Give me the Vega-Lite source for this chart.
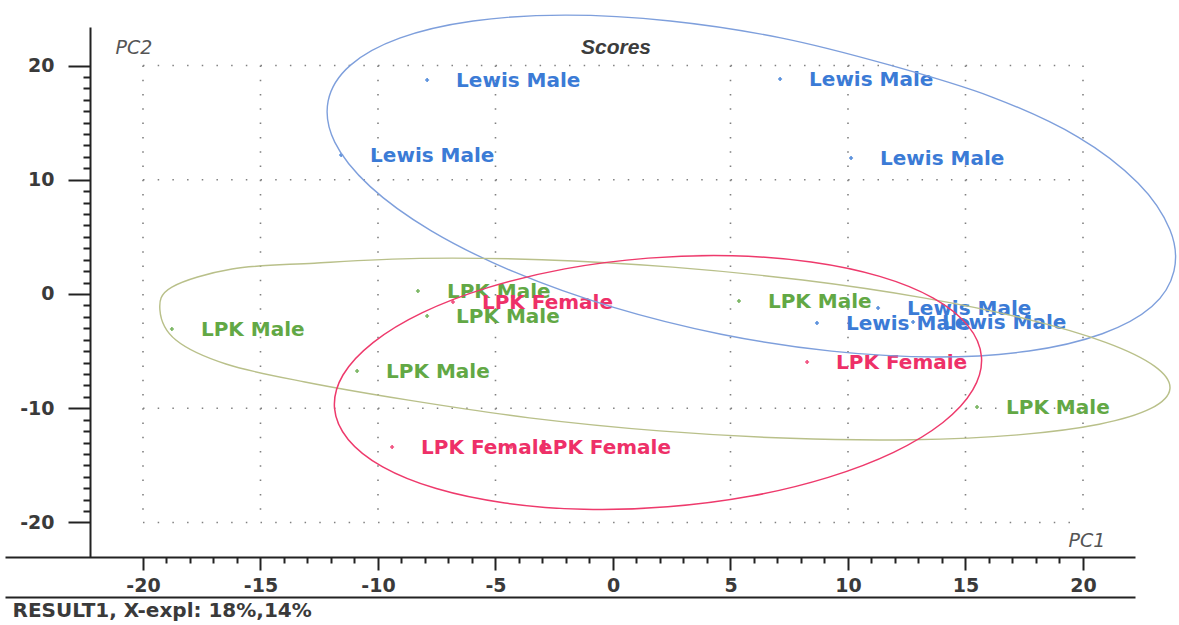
{
  "$schema": "https://vega.github.io/schema/vega-lite/v6.json",
  "width": 1130,
  "height": 530,
  "autosize": {"type": "none"},
  "padding": {"left": 5, "top": 27, "right": 44, "bottom": 68},
  "background": "white",
  "config": {"view": {"stroke": null}, "font": "DejaVu Sans"},
  "title": {
    "text": "Scores",
    "font": "Liberation Sans",
    "fontSize": 21,
    "fontWeight": "bold",
    "fontStyle": "italic",
    "color": "#3c3c3c",
    "anchor": "middle",
    "frame": "group",
    "orient": "top",
    "baseline": "alphabetic",
    "offset": -27,
    "dx": 46,
    "dy": 36
  },
  "datasets": {
    "gridX": [{"x": -20}, {"x": -15}, {"x": -10}, {"x": -5}, {"x": 5}, {"x": 10}, {"x": 15}, {"x": 20}],
    "gridY": [{"y": -20}, {"y": -10}, {"y": 10}, {"y": 20}],
    "scores": [
      {"grp": "Lewis Male", "x": -7.91, "y": 18.73},
      {"grp": "Lewis Male", "x": 7.11, "y": 18.82},
      {"grp": "Lewis Male", "x": -11.57, "y": 12.17},
      {"grp": "Lewis Male", "x": 10.13, "y": 11.9},
      {"grp": "Lewis Male", "x": 11.28, "y": -1.23},
      {"grp": "Lewis Male", "x": 8.68, "y": -2.54},
      {"grp": "Lewis Male", "x": 12.77, "y": -2.45},
      {"grp": "LPK Male", "x": -8.3, "y": 0.26},
      {"grp": "LPK Male", "x": -7.91, "y": -1.93},
      {"grp": "LPK Male", "x": -18.77, "y": -3.06},
      {"grp": "LPK Male", "x": -10.89, "y": -6.74},
      {"grp": "LPK Male", "x": 5.36, "y": -0.61},
      {"grp": "LPK Male", "x": 15.49, "y": -9.89},
      {"grp": "LPK Female", "x": -6.81, "y": -0.7},
      {"grp": "LPK Female", "x": 8.26, "y": -5.95},
      {"grp": "LPK Female", "x": -9.4, "y": -13.39},
      {"grp": "LPK Female", "x": -4.34, "y": -13.39}
    ],
    "ellipses": [
      {"grp": "Lewis Male", "ord": 1, "x": 23.87, "y": 2.0},
      {"grp": "Lewis Male", "ord": 2, "x": 22.93, "y": -1.1},
      {"grp": "Lewis Male", "ord": 3, "x": 20.82, "y": -3.48},
      {"grp": "Lewis Male", "ord": 4, "x": 17.7, "y": -4.99},
      {"grp": "Lewis Male", "ord": 5, "x": 13.77, "y": -5.51},
      {"grp": "Lewis Male", "ord": 6, "x": 9.3, "y": -5.0},
      {"grp": "Lewis Male", "ord": 7, "x": 4.6, "y": -3.52},
      {"grp": "Lewis Male", "ord": 8, "x": -0.01, "y": -1.15},
      {"grp": "Lewis Male", "ord": 9, "x": -4.23, "y": 1.95},
      {"grp": "Lewis Male", "ord": 10, "x": -7.75, "y": 5.55},
      {"grp": "Lewis Male", "ord": 11, "x": -10.34, "y": 9.42},
      {"grp": "Lewis Male", "ord": 12, "x": -11.84, "y": 13.29},
      {"grp": "Lewis Male", "ord": 13, "x": -12.12, "y": 16.9},
      {"grp": "Lewis Male", "ord": 14, "x": -11.18, "y": 20.01},
      {"grp": "Lewis Male", "ord": 15, "x": -9.08, "y": 22.39},
      {"grp": "Lewis Male", "ord": 16, "x": -5.95, "y": 23.89},
      {"grp": "Lewis Male", "ord": 17, "x": -2.03, "y": 24.41},
      {"grp": "Lewis Male", "ord": 18, "x": 2.44, "y": 23.9},
      {"grp": "Lewis Male", "ord": 19, "x": 7.14, "y": 22.42},
      {"grp": "Lewis Male", "ord": 20, "x": 11.75, "y": 20.05},
      {"grp": "Lewis Male", "ord": 21, "x": 16.13, "y": 17.24},
      {"grp": "Lewis Male", "ord": 22, "x": 19.79, "y": 13.74},
      {"grp": "Lewis Male", "ord": 23, "x": 22.34, "y": 9.72},
      {"grp": "Lewis Male", "ord": 24, "x": 23.7, "y": 5.62},
      {"grp": "LPK Male", "ord": 1, "x": 23.7, "y": -8.28},
      {"grp": "LPK Male", "ord": 2, "x": 22.89, "y": -10.02},
      {"grp": "LPK Male", "ord": 3, "x": 20.69, "y": -11.4},
      {"grp": "LPK Male", "ord": 4, "x": 17.23, "y": -12.33},
      {"grp": "LPK Male", "ord": 5, "x": 12.74, "y": -12.75},
      {"grp": "LPK Male", "ord": 6, "x": 7.54, "y": -12.63},
      {"grp": "LPK Male", "ord": 7, "x": 1.98, "y": -11.98},
      {"grp": "LPK Male", "ord": 8, "x": -3.56, "y": -10.84},
      {"grp": "LPK Male", "ord": 9, "x": -8.7, "y": -9.29},
      {"grp": "LPK Male", "ord": 10, "x": -13.11, "y": -7.7},
      {"grp": "LPK Male", "ord": 11, "x": -16.47, "y": -6.13},
      {"grp": "LPK Male", "ord": 12, "x": -18.6, "y": -4.03},
      {"grp": "LPK Male", "ord": 13, "x": -19.28, "y": -1.4},
      {"grp": "LPK Male", "ord": 14, "x": -18.77, "y": 0.61},
      {"grp": "LPK Male", "ord": 15, "x": -16.21, "y": 2.19},
      {"grp": "LPK Male", "ord": 16, "x": -12.71, "y": 2.7},
      {"grp": "LPK Male", "ord": 17, "x": -8.23, "y": 3.12},
      {"grp": "LPK Male", "ord": 18, "x": -3.03, "y": 3.0},
      {"grp": "LPK Male", "ord": 19, "x": 2.53, "y": 2.35},
      {"grp": "LPK Male", "ord": 20, "x": 8.07, "y": 1.22},
      {"grp": "LPK Male", "ord": 21, "x": 13.21, "y": -0.34},
      {"grp": "LPK Male", "ord": 22, "x": 17.61, "y": -2.2},
      {"grp": "LPK Male", "ord": 23, "x": 20.96, "y": -4.23},
      {"grp": "LPK Male", "ord": 24, "x": 23.04, "y": -6.31},
      {"grp": "LPK Female", "ord": 1, "x": 15.68, "y": -5.51},
      {"grp": "LPK Female", "ord": 2, "x": 15.31, "y": -8.4},
      {"grp": "LPK Female", "ord": 3, "x": 14.04, "y": -11.25},
      {"grp": "LPK Female", "ord": 4, "x": 11.94, "y": -13.86},
      {"grp": "LPK Female", "ord": 5, "x": 9.16, "y": -16.05},
      {"grp": "LPK Female", "ord": 6, "x": 5.88, "y": -17.69},
      {"grp": "LPK Female", "ord": 7, "x": 2.33, "y": -18.63},
      {"grp": "LPK Female", "ord": 8, "x": -1.24, "y": -18.84},
      {"grp": "LPK Female", "ord": 9, "x": -4.6, "y": -18.29},
      {"grp": "LPK Female", "ord": 10, "x": -7.52, "y": -17.03},
      {"grp": "LPK Female", "ord": 11, "x": -9.8, "y": -15.13},
      {"grp": "LPK Female", "ord": 12, "x": -11.27, "y": -12.73},
      {"grp": "LPK Female", "ord": 13, "x": -11.85, "y": -9.99},
      {"grp": "LPK Female", "ord": 14, "x": -11.49, "y": -7.09},
      {"grp": "LPK Female", "ord": 15, "x": -10.21, "y": -4.25},
      {"grp": "LPK Female", "ord": 16, "x": -8.11, "y": -1.63},
      {"grp": "LPK Female", "ord": 17, "x": -5.33, "y": 0.56},
      {"grp": "LPK Female", "ord": 18, "x": -2.05, "y": 2.2},
      {"grp": "LPK Female", "ord": 19, "x": 1.5, "y": 3.14},
      {"grp": "LPK Female", "ord": 20, "x": 5.07, "y": 3.35},
      {"grp": "LPK Female", "ord": 21, "x": 8.43, "y": 2.8},
      {"grp": "LPK Female", "ord": 22, "x": 11.35, "y": 1.54},
      {"grp": "LPK Female", "ord": 23, "x": 13.63, "y": -0.36},
      {"grp": "LPK Female", "ord": 24, "x": 15.1, "y": -2.77}
    ]
  },
  "layer": [
    {
      "layer": [
        {
          "data": {"name": "scores"},
          "mark": {"type": "point", "opacity": 0},
          "encoding": {
            "x": {
              "field": "x", "type": "quantitative",
              "scale": {"domain": [-25.872, 22.213], "nice": false, "zero": false},
              "axis": {
                "values": [-20, -15, -10, -5, 0, 5, 10, 15, 20],
                "labelExpr": "'' + datum.value",
                "tickSize": 13,
                "tickWidth": 2,
                "tickColor": "#222222",
                "domainColor": "#222222",
                "domainWidth": 2,
                "grid": false,
                "labelFont": "DejaVu Sans",
                "labelFontSize": 19,
                "labelFontWeight": "bold",
                "labelColor": "#3a3a3a",
                "labelPadding": 6,
                "labelFlush": false,
                "title": "PC1",
                "titleFont": "DejaVu Sans",
                "titleFontSize": 19,
                "titleFontStyle": "italic",
                "titleFontWeight": "normal",
                "titleColor": "#555555",
                "titleX": 1063,
                "titleY": -17,
                "titleAlign": "left",
                "titleBaseline": "middle"
              }
            },
            "y": {
              "field": "y", "type": "quantitative",
              "scale": {"domain": [-23.02, 23.37], "nice": false, "zero": false},
              "axis": {
                "values": [-20, -10, 0, 10, 20],
                "labelExpr": "'' + datum.value",
                "tickSize": 22,
                "tickWidth": 2,
                "tickColor": "#222222",
                "domainColor": "#222222",
                "domainWidth": 2,
                "offset": -85,
                "grid": false,
                "labelFont": "DejaVu Sans",
                "labelFontSize": 19,
                "labelFontWeight": "bold",
                "labelColor": "#3a3a3a",
                "labelPadding": 14,
                "labelFlush": false,
                "title": "PC2",
                "titleFont": "DejaVu Sans",
                "titleFontSize": 19,
                "titleFontStyle": "italic",
                "titleFontWeight": "normal",
                "titleColor": "#555555",
                "titleAngle": 0,
                "titleX": 25,
                "titleY": 20,
                "titleAlign": "left",
                "titleBaseline": "middle"
              }
            }
          }
        },
        {
          "data": {"name": "gridX"},
          "mark": {"type": "rule", "stroke": "#808080", "strokeWidth": 1.6, "strokeDash": [1.5, 12.78]},
          "encoding": {
            "x": {"field": "x", "type": "quantitative", "scale": {"domain": [-25.872, 22.213], "nice": false, "zero": false}},
            "y": {"datum": 20, "type": "quantitative", "scale": {"domain": [-23.02, 23.37], "nice": false, "zero": false}},
            "y2": {"datum": -20}
          }
        },
        {
          "data": {"name": "gridY"},
          "mark": {"type": "rule", "stroke": "#808080", "strokeWidth": 1.6, "strokeDash": [1.5, 13.19]},
          "encoding": {
            "y": {"field": "y", "type": "quantitative", "scale": {"domain": [-23.02, 23.37], "nice": false, "zero": false}},
            "x": {"datum": -20, "type": "quantitative", "scale": {"domain": [-25.872, 22.213], "nice": false, "zero": false}},
            "x2": {"datum": 20}
          }
        },
        {
          "mark": {"type": "rule", "stroke": "#333333", "strokeWidth": 2.5},
          "encoding": {
            "y": {"datum": 0, "type": "quantitative", "scale": {"domain": [-23.02, 23.37], "nice": false, "zero": false}},
            "x": {"datum": -20, "type": "quantitative", "scale": {"domain": [-25.872, 22.213], "nice": false, "zero": false}},
            "x2": {"datum": 20}
          }
        },
        {
          "mark": {"type": "rule", "stroke": "#444444", "strokeWidth": 1.5},
          "encoding": {
            "x": {"datum": 0, "type": "quantitative", "scale": {"domain": [-25.872, 22.213], "nice": false, "zero": false}},
            "y": {"datum": 20, "type": "quantitative", "scale": {"domain": [-23.02, 23.37], "nice": false, "zero": false}},
            "y2": {"datum": -20}
          }
        },
        {
          "data": {"name": "scores"},
          "mark": {"type": "point", "shape": "cross", "filled": true, "size": 16, "opacity": 0.85},
          "encoding": {
            "x": {"field": "x", "type": "quantitative", "scale": {"domain": [-25.872, 22.213], "nice": false, "zero": false}},
            "y": {"field": "y", "type": "quantitative", "scale": {"domain": [-23.02, 23.37], "nice": false, "zero": false}},
            "fill": {"field": "grp", "type": "nominal", "legend": null,
              "scale": {"domain": ["Lewis Male", "LPK Male", "LPK Female"], "range": ["#3b7bd6", "#62a845", "#ee3068"]}}
          }
        },
        {
          "data": {"name": "scores"},
          "mark": {"type": "text", "align": "left", "baseline": "alphabetic", "dx": 29, "dy": 7,
            "font": "DejaVu Sans", "fontSize": 20, "fontWeight": "bold"},
          "encoding": {
            "x": {"field": "x", "type": "quantitative", "scale": {"domain": [-25.872, 22.213], "nice": false, "zero": false}},
            "y": {"field": "y", "type": "quantitative", "scale": {"domain": [-23.02, 23.37], "nice": false, "zero": false}},
            "text": {"field": "grp"},
            "fill": {"field": "grp", "type": "nominal", "legend": null,
              "scale": {"domain": ["Lewis Male", "LPK Male", "LPK Female"], "range": ["#3b7bd6", "#62a845", "#ee3068"]}}
          }
        },
        {
          "data": {"name": "ellipses"},
          "mark": {"type": "line", "interpolate": "cardinal-closed"},
          "encoding": {
            "x": {"field": "x", "type": "quantitative", "scale": {"domain": [-25.872, 22.213], "nice": false, "zero": false}},
            "y": {"field": "y", "type": "quantitative", "scale": {"domain": [-23.02, 23.37], "nice": false, "zero": false}},
            "order": {"field": "ord", "type": "quantitative"},
            "detail": {"field": "grp", "type": "nominal"},
            "stroke": {"field": "grp", "type": "nominal", "legend": null,
              "scale": {"domain": ["Lewis Male", "LPK Male", "LPK Female"], "range": ["#7e9fdc", "#b9c08a", "#ee3a6c"]}},
            "strokeWidth": {"field": "grp", "type": "ordinal", "legend": null,
              "scale": {"domain": ["Lewis Male", "LPK Male", "LPK Female"], "range": [1.4, 1.5, 2.2]}}
          }
        }
      ]
    },
    {
      "data": {"name": "scores"},
      "mark": {"type": "point", "opacity": 0},
      "encoding": {
        "x": {
          "field": "x", "type": "quantitative",
          "scale": {"domain": [-25.872, 22.213], "nice": false, "zero": false},
          "axis": {
            "orient": "bottom",
            "values": [-19, -18, -17, -16, -14, -13, -12, -11, -9, -8, -7, -6, -4, -3, -2, -1, 1, 2, 3, 4, 6, 7, 8, 9, 11, 12, 13, 14, 16, 17, 18, 19],
            "domain": false,
            "labels": false,
            "grid": false,
            "tickSize": 6,
            "tickWidth": 2,
            "tickColor": "#222222",
            "title": null
          }
        },
        "y": {
          "field": "y", "type": "quantitative",
          "scale": {"domain": [-23.02, 23.37], "nice": false, "zero": false},
          "axis": {
            "orient": "left",
            "offset": -85,
            "values": [-19, -18, -17, -16, -15, -14, -13, -12, -11, -9, -8, -7, -6, -5, -4, -3, -2, -1, 1, 2, 3, 4, 5, 6, 7, 8, 9, 11, 12, 13, 14, 15, 16, 17, 18, 19],
            "domain": false,
            "labels": false,
            "grid": false,
            "tickSize": 7,
            "tickWidth": 2,
            "tickColor": "#222222",
            "title": null
          }
        }
      }
    },
    {
      "data": {"name": "scores"},
      "mark": {"type": "point", "opacity": 0},
      "encoding": {
        "x": {
          "field": "x", "type": "quantitative",
          "scale": {"domain": [-25.872, 22.213], "nice": false, "zero": false},
          "axis": {
            "orient": "bottom",
            "offset": 40,
            "domain": true,
            "domainColor": "#222222",
            "domainWidth": 2,
            "ticks": false,
            "labels": false,
            "grid": false,
            "title": "RESULT1, X-expl: 18%,14%",
            "titleFont": "DejaVu Sans",
            "titleFontSize": 20,
            "titleFontWeight": "bold",
            "titleColor": "#3a3a3a",
            "titleX": 7,
            "titleY": 13,
            "titleAlign": "left",
            "titleBaseline": "middle"
          }
        }
      }
    }
  ],
  "resolve": {"axis": {"x": "independent", "y": "independent"}}
}
